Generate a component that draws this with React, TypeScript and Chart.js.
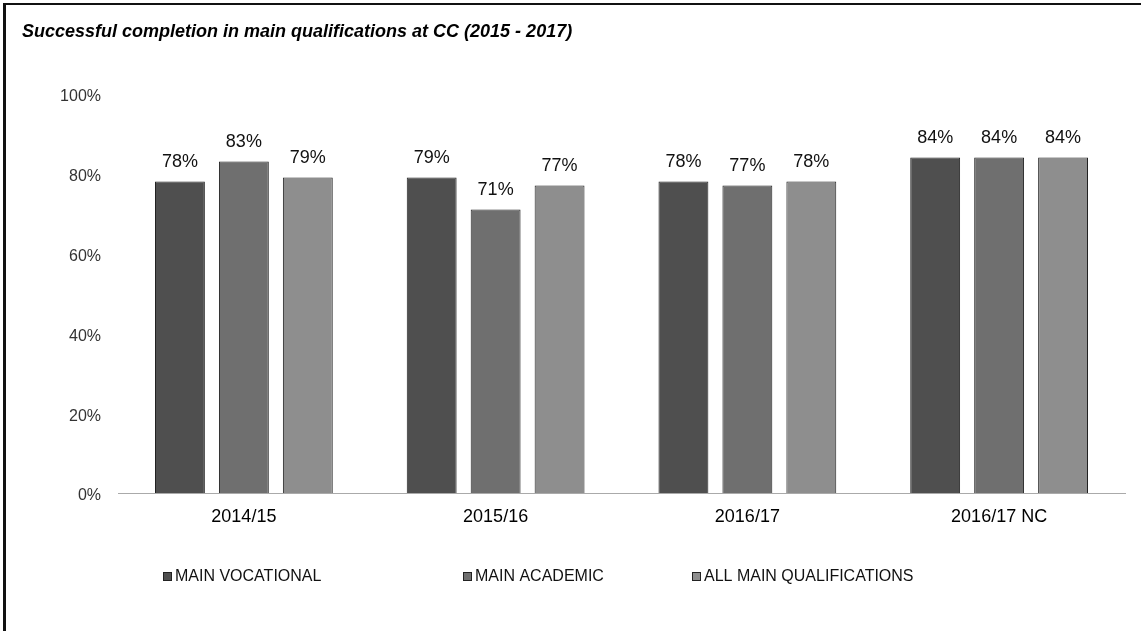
import React, { useEffect, useRef } from "react";
import { Chart, registerables } from "chart.js";

Chart.register(...registerables);

const titleText = "Successful completion in main qualifications at CC (2015 - 2017)";
const categories = ["2014/15", "2015/16", "2016/17", "2016/17 NC"];
const seriesLabels = ["MAIN VOCATIONAL", "MAIN ACADEMIC", "ALL MAIN QUALIFICATIONS"];
const mainVocational = [78, 79, 78, 84];
const mainAcademic = [83, 71, 77, 84];
const allMainQualifications = [79, 77, 78, 84];
const seriesColors = ["#4f4f4f", "#6f6f6f", "#8e8e8e"];
const yTickValues = [0, 20, 40, 60, 80, 100];

const FONT = "'Liberation Sans', Arial, Helvetica, sans-serif";
const LEGEND_STARTS = [163, 463, 692];

const dataLabelPlugin = {
  id: "dataLabels",
  afterDatasetsDraw(chart: any) {
    const ctx = chart.ctx;
    ctx.save();
    ctx.font = `18px ${FONT}`;
    ctx.fillStyle = "#111";
    ctx.textAlign = "center";
    ctx.textBaseline = "bottom";
    chart.data.datasets.forEach((ds: any, i: number) => {
      const meta = chart.getDatasetMeta(i);
      meta.data.forEach((bar: any, j: number) => {
        ctx.fillText(`${ds.data[j]}%`, bar.x, bar.y - 10);
      });
    });
    ctx.restore();
  },
};

const legendPlugin = {
  id: "bottomLegend",
  afterDraw(chart: any) {
    const ctx = chart.ctx;
    ctx.save();
    ctx.font = `16px ${FONT}`;
    ctx.textBaseline = "middle";
    ctx.textAlign = "left";
    const y = chart.chartArea.bottom + 84;
    chart.data.datasets.forEach((ds: any, i: number) => {
      const x = LEGEND_STARTS[i];
      ctx.fillStyle = ds.backgroundColor;
      ctx.fillRect(x, y - 5, 9, 9);
      ctx.strokeStyle = "#222";
      ctx.lineWidth = 1;
      ctx.strokeRect(x + 0.5, y - 4.5, 8, 8);
      ctx.fillStyle = "#111";
      ctx.fillText(ds.label, x + 12, y);
    });
    ctx.restore();
  },
};

export default function App() {
  const canvasRef = useRef<HTMLCanvasElement | null>(null);

  useEffect(() => {
    const canvas = canvasRef.current;
    if (!canvas) return;
    const seriesValues = [mainVocational, mainAcademic, allMainQualifications];
    const chart = new Chart(canvas, {
      type: "bar",
      data: {
        labels: categories,
        datasets: seriesLabels.map((label, i) => ({
          label,
          data: seriesValues[i],
          backgroundColor: seriesColors[i],
          borderColor: "#222",
          borderWidth: 1,
          categoryPercentage: 0.762,
          barPercentage: 0.78,
        })),
      },
      options: {
        responsive: false,
        animation: false,
        devicePixelRatio: 1,
        layout: { padding: { left: 22, right: 16, top: 0, bottom: 100 } },
        plugins: {
          legend: { display: false },
          tooltip: { enabled: false },
          title: {
            display: true,
            text: titleText,
            align: "start",
            color: "#000",
            font: { family: FONT, size: 18, weight: "bold", style: "italic" },
            padding: { top: 21, bottom: 51 },
          },
        },
        scales: {
          x: {
            grid: { display: false, drawTicks: false },
            border: { display: true, color: "#aaa", dash: [1, 6], width: 1 },
            ticks: { color: "#000", font: { family: FONT, size: 18 }, padding: 13 },
            afterFit(axis: any) {
              axis.height = 38;
            },
          },
          y: {
            min: 0,
            max: 100,
            grid: { display: false, drawTicks: false },
            border: { display: false },
            afterBuildTicks(axis: any) {
              axis.ticks = yTickValues.map((v) => ({ value: v }));
            },
            ticks: {
              color: "#333",
              font: { family: FONT, size: 16 },
              padding: 17,
              labelOffset: 3,
              callback: (v: any) => `${v}%`,
            },
            afterFit(axis: any) {
              axis.width = 96;
            },
          },
        },
      },
      plugins: [dataLabelPlugin, legendPlugin],
    });
    return () => chart.destroy();
  }, []);

  return (
    <div style={{ position: "absolute", left: 0, top: 0, width: 1141, height: 631, background: "#fff" }}>
      <div
        style={{
          position: "absolute",
          left: 3,
          top: 3,
          width: 1138,
          height: 628,
          borderTop: "2px solid #111",
          borderLeft: "3px solid #111",
          boxSizing: "border-box",
        }}
      />
      <canvas ref={canvasRef} width={1141} height={631} style={{ position: "absolute", left: 0, top: 0 }} />
    </div>
  );
}
